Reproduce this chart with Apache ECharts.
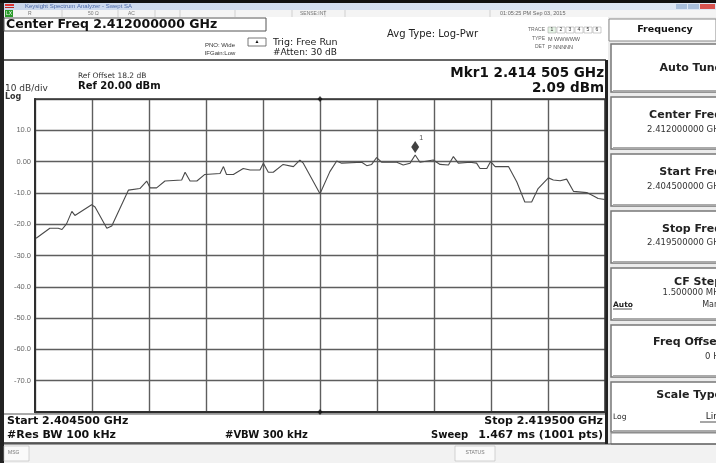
<!DOCTYPE html>
<html><head><meta charset="utf-8">
<script src="https://cdn.jsdelivr.net/npm/echarts@6/dist/echarts.min.js"></script>
<style>html,body{margin:0;padding:0;background:#fff}#c{width:716px;height:463px}</style>
</head><body><div id="c"></div>
<script>
const traceFreq = [2404.53,2404.89,2405.11,2405.21,2405.33,2405.47,2405.55,2405.99,2406.08,2406.39,2406.52,2406.96,2407.26,2407.44,2407.53,2407.70,2407.92,2408.36,2408.45,2408.58,2408.76,2408.97,2409.37,2409.46,2409.54,2409.72,2409.98,2410.16,2410.42,2410.51,2410.64,2410.77,2411.03,2411.30,2411.47,2411.56,2412.00,2412.26,2412.44,2412.57,2413.10,2413.23,2413.36,2413.49,2413.62,2414.02,2414.19,2414.37,2414.505,2414.63,2414.98,2415.16,2415.38,2415.51,2415.64,2415.95,2416.12,2416.21,2416.39,2416.49,2416.61,2416.96,2417.18,2417.39,2417.57,2417.74,2418.01,2418.14,2418.32,2418.49,2418.67,2419.02,2419.20,2419.32,2419.50];
const traceLevel = [-24.5,-21.3,-21.3,-21.7,-19.9,-15.9,-17.2,-13.8,-14.5,-21.3,-20.6,-9.1,-8.6,-6.2,-8.4,-8.4,-6.2,-5.9,-3.4,-6.2,-6.2,-4.1,-3.8,-1.6,-4.1,-4.1,-2.2,-2.7,-2.7,-0.5,-3.4,-3.4,-0.9,-1.6,0.5,-0.5,-10.3,-3.2,0.2,-0.5,-0.2,-1.3,-0.9,1.3,-0.2,-0.2,-1.1,-0.5,2.09,-0.2,0.5,-0.9,-1.1,1.6,-0.5,-0.2,-0.5,-2.2,-2.2,0.0,-1.6,-1.6,-6.5,-12.9,-12.9,-8.6,-5.2,-5.9,-6.1,-5.6,-9.5,-9.9,-11.0,-11.8,-12.1];
const marker = [2414.505, 2.09];
const centerFreq = 2412.0;
const startFreq = 2404.5, stopFreq = 2419.5, freqDiv = 1.5;
const refLevel = 20, bottomLevel = -80, dbDiv = 10;
const yTickLabels = {"10":"10.0","0":"0.00","-10":"-10.0","-20":"-20.0","-30":"-30.0","-40":"-40.0","-50":"-50.0","-60":"-60.0","-70":"-70.0"};

const F = '"Liberation Sans", Arial, sans-serif';
const D = '"DejaVu Sans", sans-serif';
const chart = echarts.init(document.getElementById('c'), null, {renderer:'canvas'});
const G = [];
function rect(x,y,w,h,fill,stroke,lw,z){G.push({type:'rect',shape:{x,y,width:w,height:h},style:{fill:fill||'none',stroke:stroke||null,lineWidth:lw||0},z:z||0,silent:true});}
function txt(x,y,t,size,opt){opt=opt||{};G.push({type:'text',x,y,z:opt.z||5,silent:true,style:{text:t,fill:opt.color||'#111',font:(opt.bold?'bold ':'')+size+'px '+(opt.font||D),textAlign:opt.align||'left',textVerticalAlign:'middle'}});}
function line(x1,y1,x2,y2,c,w,z){G.push({type:'line',shape:{x1,y1,x2,y2},style:{stroke:c,lineWidth:w},z:z||1,silent:true});}

// outer frame
rect(0,0,716,463,'#ffffff');
rect(0,0,716,3,'#111');
rect(0,3,4,460,'#222');
// title bar
G.push({type:'rect',shape:{x:4,y:3,width:712,height:7},style:{fill:new echarts.graphic.LinearGradient(0,0,1,0,[{offset:0,color:'#c9d6ec'},{offset:1,color:'#dfe8f5'}])},silent:true});
rect(5,4,9,2,'#d33');rect(5,7,9,1,'#b22');
txt(25,6.5,'Keysight Spectrum Analyzer - Swept SA',6,{color:'#4a68a8',font:F});
rect(676,4,11,5,'#a9bfdc');rect(688,4,11,5,'#a9bfdc');rect(700,4,15,5,'#d9534f');
// toolbar row
rect(4,10,712,7,'#f4f4f4');
rect(5,10,8,7,'#2a9a2a');txt(9,13.5,'LX',5,{color:'#fff',align:'center',font:F});
[62,118,155,180,235,292,325,345,490].forEach(x=>line(x,10,x,17,'#bbb',0.6));
txt(28,13.5,'R',5,{color:'#777',font:F});txt(88,13.5,'50 Ω',5,{color:'#777',font:F});txt(128,13.5,'AC',5,{color:'#777',font:F});
txt(300,13.5,'SENSE:INT',5,{color:'#777',font:F});
txt(500,13.5,'01:05:25 PM Sep 03, 2015',5.5,{color:'#666',font:F});
// header
rect(4,17,600,43,'#fff');
rect(4,18,262,13,'#fff','#555',1);
txt(6,25,'Center Freq 2.412000000 GHz',12.5,{bold:true});
rect(248,38,18,8,'#fff','#555',0.8);txt(257,42,'▲',5,{align:'center',font:F});
txt(220,45,'PNO: Wide',6,{color:'#333',align:'center',font:F});
txt(220,53,'IFGain:Low',6,{color:'#333',align:'center',font:F});
txt(273,43,'Trig: Free Run',9.5,{color:'#222'});
txt(273,53,'#Atten: 30 dB',9,{color:'#222'});
txt(387,34,'Avg Type: Log-Pwr',10,{color:'#222'});
txt(545,30,'TRACE',5,{color:'#666',align:'right',font:F});
['1','2','3','4','5','6'].forEach((s,i)=>{rect(548+i*9,27,8,6,i===0?'#e6f5e6':'#fff','#999',0.5);txt(552+i*9,30,s,5,{color:'#333',align:'center',font:F});});
txt(545,39,'TYPE',5,{color:'#666',align:'right',font:F});txt(548,39,'M WWWWW',5.5,{color:'#555',font:F});
txt(545,47,'DET',5,{color:'#666',align:'right',font:F});txt(548,47,'P NNNNN',5.5,{color:'#555',font:F});
line(4,60,606,60,'#333',1.5);
// plot panel texts
txt(78,76,'Ref Offset 18.2 dB',7.5,{color:'#333'});
txt(78,86.5,'Ref 20.00 dBm',10,{bold:true});
txt(5,89,'10 dB/div',9,{color:'#333'});
txt(5,97,'Log',8,{color:'#333',bold:true});
txt(604,73,'Mkr1 2.414 505 GHz',13.5,{bold:true,align:'right'});
txt(604,88,'2.09 dBm',13.5,{bold:true,align:'right'});
// bottom annotations
line(4,414,606,414,'#555',1);
txt(7,421,'Start 2.404500 GHz',11,{bold:true});
txt(7,435,'#Res BW 100 kHz',11,{bold:true});
txt(225,435,'#VBW 300 kHz',10,{bold:true});
txt(603,421,'Stop 2.419500 GHz',11,{bold:true,align:'right'});
txt(431,435,'Sweep',10,{bold:true});
txt(603,435,'1.467 ms (1001 pts)',11,{bold:true,align:'right'});
line(4,443,606,443,'#333',1.5);
// right border of plot panel
rect(605,60,3,384,'#222',null,0,2);
// status bar
rect(4,444,712,19,'#f2f2f2');
line(4,444,716,444,'#444',1);
rect(4,446,25,15,'#fafafa','#bbb',0.6);txt(8,453,'MSG',5,{color:'#777',font:F});
rect(455,446,40,15,'#fafafa','#bbb',0.6);txt(475,453,'STATUS',5,{color:'#777',align:'center',font:F});
// right soft-key panel
rect(608,17,108,427,'#ececec');
rect(609,19,107,22,'#fff','#888',1);
txt(665,30,'Frequency',9.5,{bold:true,align:'center'});
const keys=[
  {y:44,h:48,t:'Auto Tune',ty:68},
  {y:97,h:52,t:'Center Freq',ty:115,v:'2.412000000 GHz',vy:130},
  {y:154,h:52,t:'Start Freq',ty:172,v:'2.404500000 GHz',vy:187},
  {y:211,h:52,t:'Stop Freq',ty:229,v:'2.419500000 GHz',vy:243},
  {y:268,h:52,t:'CF Step',ty:282,v:'1.500000 MHz',vy:293,aut:true},
  {y:325,h:52,t:'Freq Offset',ty:342,v:'0 Hz',vy:357},
  {y:382,h:50,t:'Scale Type',ty:395,log:true}
];
keys.forEach(k=>{
  rect(611,k.y,106,k.h,'#fff','#777',1.5);
  line(613,k.y+k.h-1,716,k.y+k.h-1,'#aaa',2);
  txt(722,k.ty,k.t,11,{bold:true,align:'right',color:'#222'});
  if(k.v) txt(724,k.vy,k.v,8.5,{align:'right',color:'#333'});
  if(k.aut){txt(613,305,'Auto',7.5,{color:'#222',bold:true});line(613,309,632,309,'#222',0.8);txt(719,305,'Man',8,{align:'right',color:'#333'});}
  if(k.log){txt(613,417,'Log',7.5,{color:'#222'});txt(719,417,'Lin',9,{align:'right',color:'#222'});line(700,422,716,422,'#222',0.8);}
});
rect(611,433,106,11,'#fff','#888',1);

chart.setOption({
  animation:false,
  backgroundColor:'#fff',
  graphic:{elements:G},
  grid:{left:35,top:99,width:570,height:313,show:true,borderColor:'#333',borderWidth:1.5,backgroundColor:'transparent',z:3},
  xAxis:{type:'value',min:startFreq,max:stopFreq,interval:freqDiv,
    axisLabel:{show:false},axisTick:{show:false},
    axisLine:{show:true,onZero:false,lineStyle:{color:'#222',width:2}},
    splitLine:{show:true,lineStyle:{color:'#5e5e5e',width:1.4}}},
  yAxis:{type:'value',min:bottomLevel,max:refLevel,interval:dbDiv,
    axisTick:{show:false},
    axisLine:{show:true,onZero:false,lineStyle:{color:'#222',width:2}},
    axisLabel:{margin:4,fontSize:7.5,color:'#666',fontFamily:F,formatter:v=>yTickLabels[String(v)]||''},
    splitLine:{show:true,lineStyle:{color:'#5e5e5e',width:1.4}}},
  series:[
    {type:'line',data:traceFreq.map((f,i)=>[f,traceLevel[i]]),showSymbol:false,symbol:'none',
      lineStyle:{color:'#4a4a4a',width:1.1},z:4},
    {type:'scatter',data:[[centerFreq,refLevel],[centerFreq,bottomLevel]],symbol:'diamond',symbolSize:[5,6],
      itemStyle:{color:'#111'},z:6,clip:false},
    {type:'scatter',data:[marker],symbol:'diamond',symbolSize:[8,12],symbolOffset:[0,-8],
      itemStyle:{color:'#111'},z:7,
      label:{show:true,formatter:'1',position:[8,-6],fontSize:7,color:'#222',fontFamily:F}}
  ]
});
</script></body></html>
